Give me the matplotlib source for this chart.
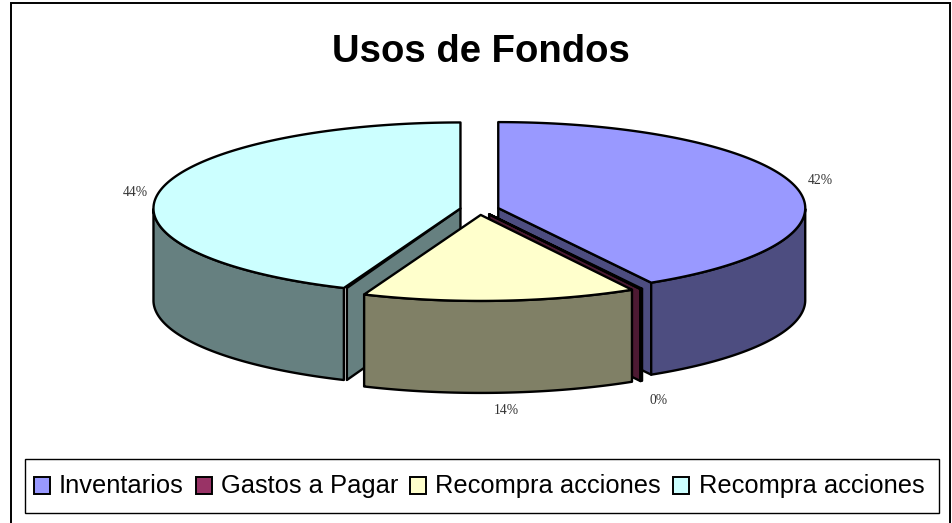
import numpy as np
import matplotlib
matplotlib.use("Agg")
import matplotlib.pyplot as plt
from matplotlib.patches import Polygon, Rectangle

# Data
categories = ["Inventarios", "Gastos a Pagar", "Recompra acciones", "Recompra acciones"]
values = [41.7, 0.1, 14.4, 43.8]
value_labels = ["42%", "0%", "14%", "44%"]
title = "Usos de Fondos"

# Style and layout (pixel space)
top_colors = ["#9999FF", "#993366", "#FFFFCC", "#CCFFFF"]
side_colors = ["#4D4D80", "#4D1A33", "#808066", "#668080"]
W, H = 953, 523
CX, CY = 479.5, 209.5
A, B = 307.0, 86.0
DEPTH = 92.0
EXPLODE = 19.4
LW = 1.7
label_px = [(820, 180), (659, 400), (506, 411), (135, 193)]
draw_order = [0, 1, 3, 2]
# which end of each slice shows a cut face: -1 = closing edge, 0 = opening edge
visible_cut = {0: -1, 1: -1, 3: 0}
cut_shift = {0: 0.0, 1: 0.0, 3: 3.0}

fig = plt.figure(figsize=(W / 100, H / 100), dpi=100)
ax = fig.add_axes([0, 0, 1, 1])
ax.set_xlim(0, W)
ax.set_ylim(H, 0)
ax.axis("off")

ax.add_patch(Rectangle((11, 2.5), 939, 530, fc="white", ec="black", lw=1.4, clip_on=True))


def ellipse(cx, cy, t):
    return np.column_stack([cx + A * np.sin(t), cy - B * np.cos(t)])


fractions = np.array(values) / sum(values) * 2 * np.pi
edges = np.concatenate([[0], np.cumsum(fractions)])

for i in draw_order:
    t0, t1 = edges[i], edges[i + 1]
    mid = (t0 + t1) / 2
    cx = CX + EXPLODE * np.sin(mid)
    cy = CY - EXPLODE * np.cos(mid) * B / A
    t = np.linspace(t0, t1, 200)
    arc = ellipse(cx, cy, t)
    apex = np.array([cx, cy])
    down = np.array([0, DEPTH])
    kw = dict(ec="black", lw=LW, joinstyle="round")

    # cut face that faces the viewer
    if i in visible_cut:
        end = arc[visible_cut[i]] + np.array([cut_shift[i], 0])
        ax.add_patch(Polygon([apex, end, end + down, apex + down],
                             closed=True, fc=side_colors[i], **kw))
    # outer wall (only the part facing the viewer)
    vis = (t > np.pi / 2) & (t < 3 * np.pi / 2)
    if vis.any():
        front = arc[vis]
        ax.add_patch(Polygon(np.vstack([front, (front + down)[::-1]]),
                             closed=True, fc=side_colors[i], **kw))
    # top face
    ax.add_patch(Polygon(np.vstack([apex, arc]), closed=True, fc=top_colors[i], **kw))

for (x, y), s in zip(label_px, value_labels):
    ax.text(x, y, s, ha="center", va="center", fontsize=9.8,
            family="Liberation Serif", color="#333333")

ax.text(481, 52.5, title, ha="center", va="center", fontsize=27.5,
        family="Liberation Sans", weight="bold", color="black")

# Legend
ax.add_patch(Rectangle((25, 459), 914, 54, fc="white", ec="black", lw=1.0))
handle_x = [34, 196, 410, 673]
text_x = [59, 221, 435, 699]
for hx, tx, s, c in zip(handle_x, text_x, categories, top_colors):
    ax.add_patch(Rectangle((hx, 477), 16, 16.5, fc=c, ec="black", lw=1.4))
    ax.text(tx, 486, s, ha="left", va="center", fontsize=18.4,
            family="Liberation Sans", color="black")

fig.savefig("out.png", dpi=100)
